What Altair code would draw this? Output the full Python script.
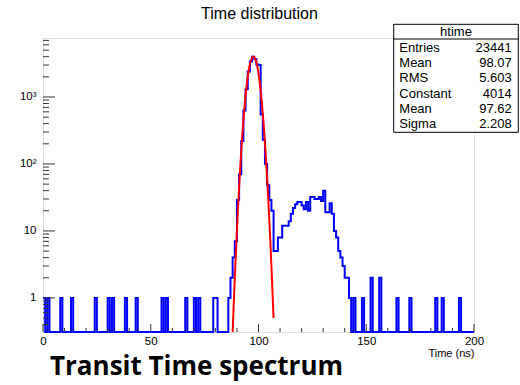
import altair as alt
import pandas as pd

# ---------------- data ----------------
title_text = "Time distribution"
x_title = "Time (ns)"
caption_text = "Transit Time spectrum"

n_bins = 200          # 1 ns bins, 0..200 ns
hist_bins = [0, 2, 8, 13, 24, 30, 32, 38, 43, 55, 57, 66, 70, 72, 79, 80,
             86, 87, 88, 89, 90, 91, 92, 93, 94, 95, 96, 97, 98, 99, 100,
             101, 102, 103, 104, 105, 106, 107, 108, 109, 110, 111, 112, 113,
             114, 115, 116, 117, 118, 119, 120, 121, 122, 123, 124, 125, 126,
             127, 128, 129, 130, 131, 132, 133, 134, 135, 136, 137, 138, 139,
             140, 141, 142, 144, 148, 152, 156, 164, 170, 182, 185, 193]
hist_counts = [1, 1, 1, 1, 1, 1, 1, 1, 1, 1, 1, 1, 1, 1, 1, 1,
               1, 2, 4, 7, 29, 70, 220, 630, 1300, 2400, 3400, 4000, 3700, 3050, 3000,
               550, 230, 100, 48, 29, 20, 5, 5, 8, 8, 12, 12, 12,
               14, 18, 22, 25, 27, 27, 24, 21, 27, 20, 32, 32, 30,
               30, 32, 28, 40, 19, 19, 26, 18, 10, 8, 5, 4, 3,
               2, 2, 1, 1, 1, 2, 2, 1, 1, 1, 1, 1]

fit_t = [88.0, 88.5, 89.0, 89.5, 90.0, 90.5, 91.0, 91.5, 92.0, 92.5, 93.0,
         93.5, 94.0, 94.5, 95.0, 95.5, 96.0, 96.5, 97.0, 97.5, 98.0, 98.5,
         99.0, 99.5, 100.0, 100.5, 101.0, 101.5, 102.0, 102.5, 103.0, 103.5,
         104.0, 104.5, 105.0, 105.5, 106.0, 106.5, 107.0]
fit_v = [0.31, 0.8, 2.0, 4.6, 10, 22, 45, 86, 157, 273, 450,
         700, 1050, 1480, 1990, 2530, 3070, 3530, 3860, 4010, 3960, 3710,
         3300, 2800, 2250, 1710, 1240, 860, 560, 350, 206, 115,
         61, 31, 15, 6.9, 3.0, 1.2, 0.5]

stat_name = "htime"
stat_labels = ["Entries", "Mean", "RMS", "Constant", "Mean", "Sigma"]
stat_values = ["23441", "98.07", "5.603", "4014", "97.62", "2.208"]

x_major = [0, 50, 100, 150, 200]
x_minor = [10, 20, 30, 40, 60, 70, 80, 90, 110, 120, 130, 140, 160, 170, 180, 190]
y_major = [1, 10, 100, 1000]
y_major_labels = ["1", "10", "10²", "10³"]
y_minor = [0.4, 0.5, 0.6, 0.7, 0.8, 0.9,
           2, 3, 4, 5, 6, 7, 8, 9,
           20, 30, 40, 50, 60, 70, 80, 90,
           200, 300, 400, 500, 600, 700, 800, 900,
           2000, 3000, 4000, 5000, 6000, 7000]

x_lo, x_hi = 0, 200
y_lo, y_hi = 0.31, 7600

# ---------------- layout ----------------
W, H = 431, 294
PAD = {"left": 43, "top": 38, "right": 520 - 43 - W, "bottom": 385 - 38 - H}
FONT = "Liberation Sans"

full = [0] * n_bins
for b, c in zip(hist_bins, hist_counts):
    full[b] = c
hist_df = pd.DataFrame({"t": list(range(n_bins + 1)), "count": full + [full[-1]]})
hist_df["v"] = hist_df["count"].clip(lower=y_lo)
fit_df = pd.DataFrame({"t": fit_t, "v": fit_v})

xs = alt.Scale(domain=[x_lo, x_hi], nice=False, zero=False)
ys = alt.Scale(type="log", domain=[y_lo, y_hi], nice=False)

label_map = "{" + ",".join(f"'{v}':'{l}'" for v, l in zip(y_major, y_major_labels)) + "}"

x_axis = alt.Axis(
    values=x_major, ticks=False, tickSize=0, domain=False, grid=False,
    labelFont=FONT, labelFontSize=11.5, labelColor="black", labelPadding=3,
    labelFlush=False, title=x_title, titleFont=FONT, titleFontSize=11,
    titleFontWeight="normal", titleColor="black", titleAnchor="end",
    titlePadding=1)
y_axis = alt.Axis(
    values=y_major, ticks=False, tickSize=0, domain=False, grid=False,
    labelExpr=f"{label_map}[datum.value] || datum.value",
    labelFont=FONT, labelFontSize=11.5, labelColor="black", labelPadding=7,
    title=None)

X = alt.X("t:Q", scale=xs, axis=x_axis, title=x_title)
Y = alt.Y("v:Q", scale=ys, axis=y_axis, title=None)

hist = alt.Chart(hist_df).mark_line(
    color="#0000ff", strokeWidth=2, interpolate="step-after").encode(x=X, y=Y)

fit = alt.Chart(fit_df).mark_line(
    color="#ff0000", strokeWidth=2, interpolate="monotone").encode(x=X, y=Y)

tick_col = "#333333"
xmaj = alt.Chart(pd.DataFrame({"t": x_major})).mark_rule(color=tick_col, strokeWidth=1).encode(
    x=X, y=alt.value(H), y2=alt.value(H - 8))
xmin = alt.Chart(pd.DataFrame({"t": x_minor})).mark_rule(color=tick_col, strokeWidth=1).encode(
    x=X, y=alt.value(H), y2=alt.value(H - 4))
ymaj = alt.Chart(pd.DataFrame({"v": y_major})).mark_rule(color=tick_col, strokeWidth=1).encode(
    y=Y, x=alt.value(0), x2=alt.value(12))
ymin = alt.Chart(pd.DataFrame({"v": y_minor})).mark_rule(color=tick_col, strokeWidth=1).encode(
    y=Y, x=alt.value(0), x2=alt.value(6))

# stats box
bx0, bx1, by0, by1 = 350.7, 475.3, -13.7, 94.3
one = pd.DataFrame({"k": [0]})
box = alt.Chart(one).mark_rect(fill="white", stroke="black", strokeWidth=1).encode(
    x=alt.value(bx0), x2=alt.value(bx1), y=alt.value(by0), y2=alt.value(by1))
hline = alt.Chart(one).mark_rule(color="black", strokeWidth=1).encode(
    x=alt.value(bx0), x2=alt.value(bx1), y=alt.value(1))
head = alt.Chart(pd.DataFrame({"s": [stat_name]})).mark_text(
    font=FONT, fontSize=13, color="black", align="center", baseline="middle").encode(
    x=alt.value((bx0 + bx1) / 2), y=alt.value(-6), text="s:N")

stat_layers = []
for i, (lab, val) in enumerate(zip(stat_labels, stat_values)):
    yy = 9.7 + i * 15.3
    stat_layers.append(alt.Chart(pd.DataFrame({"s": [lab]})).mark_text(
        font=FONT, fontSize=13, color="black", align="left", baseline="middle").encode(
        x=alt.value(356.3), y=alt.value(yy), text="s:N"))
    stat_layers.append(alt.Chart(pd.DataFrame({"s": [val]})).mark_text(
        font=FONT, fontSize=13, color="black", align="right", baseline="middle").encode(
        x=alt.value(468.7), y=alt.value(yy), text="s:N"))

title = alt.Chart(pd.DataFrame({"s": [title_text]})).mark_text(
    font=FONT, fontSize=16, color="black", align="center", baseline="alphabetic").encode(
    x=alt.value(216.5), y=alt.value(-19), text="s:N")

caption = alt.Chart(pd.DataFrame({"s": [caption_text]})).mark_text(
    font="Open Sans", fontWeight="bold", fontSize=26, color="black", align="left",
    baseline="alphabetic").encode(
    x=alt.value(7), y=alt.value(337), text="s:N")

chart = alt.layer(
    hist, fit, xmaj, xmin, ymaj, ymin, box, hline, head, *stat_layers, title, caption
).properties(
    width=W, height=H, autosize=alt.AutoSizeParams(type="none"), padding=PAD
).configure_view(
    stroke="#808080", strokeWidth=1
).configure(background="white")

chart.save("out.html", embed_options={"renderer": "svg", "actions": False})
